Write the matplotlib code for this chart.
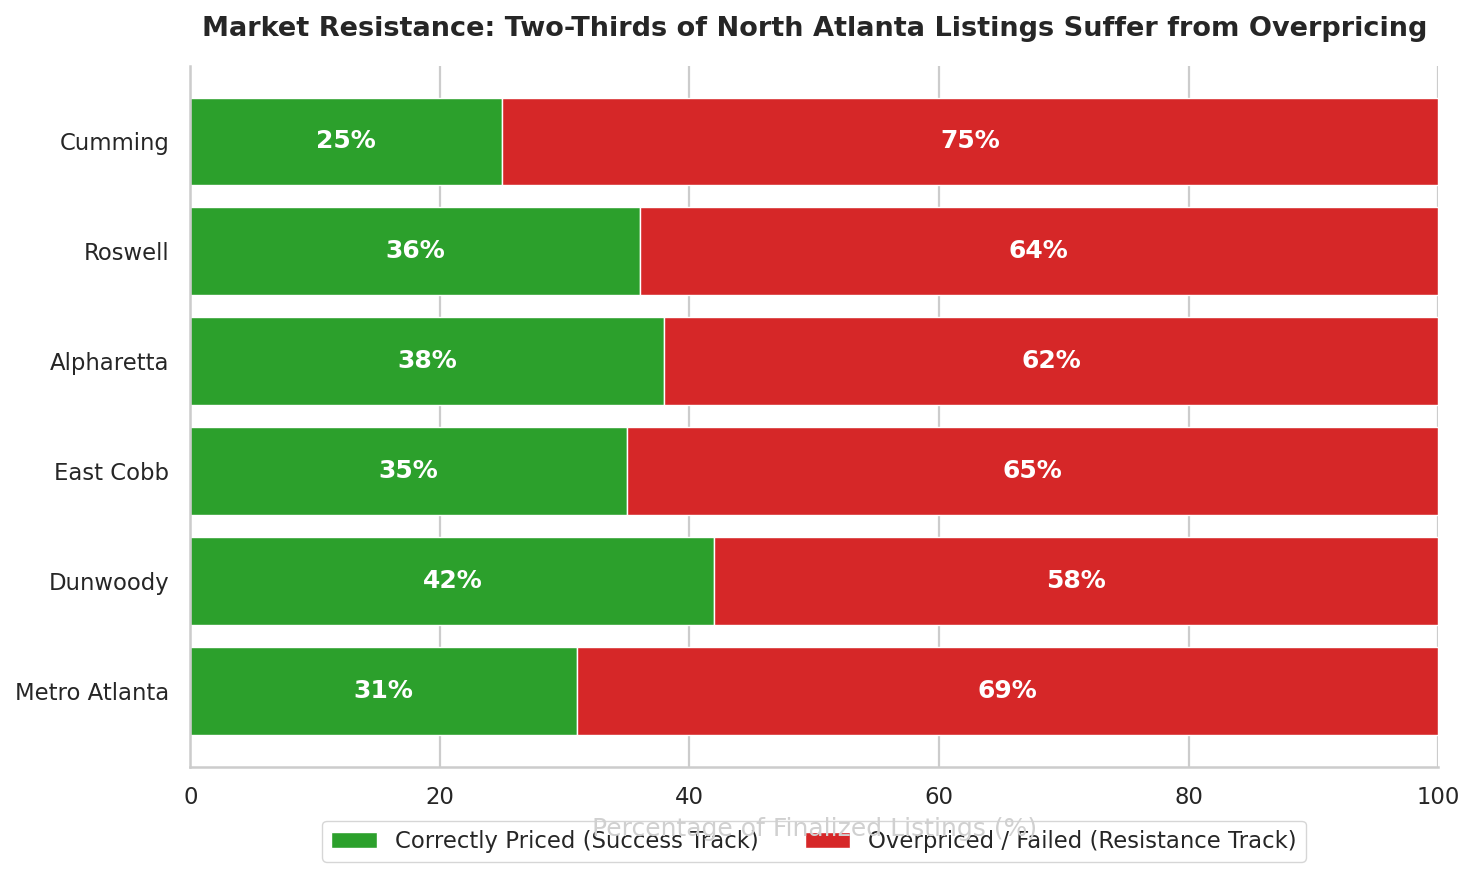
import matplotlib
matplotlib.use("Agg")
import matplotlib.pyplot as plt
import seaborn as sns

sns.set_theme(style="whitegrid")
plt.rcParams['font.family'] = ['DejaVu Sans']

areas = ["Metro Atlanta", "Dunwoody", "East Cobb", "Alpharetta", "Roswell", "Cumming"]
success = [31, 42, 35, 38, 36, 25]
failed = [69, 58, 65, 62, 64, 75]

green = "#2ca02c"
red = "#d62728"

fig, ax = plt.subplots(figsize=(14.75, 8.76), dpi=100)

b1 = ax.barh(areas, success, height=0.8, color=green, label="Correctly Priced (Success Track)")
b2 = ax.barh(areas, failed, left=success, height=0.8, color=red, label="Overpriced / Failed (Resistance Track)")

# labels in the middle of each segment
for bars, vals in ((b1, success), (b2, failed)):
    for bar, v in zip(bars, vals):
        x = bar.get_x() + bar.get_width() / 2
        y = bar.get_y() + bar.get_height() / 2
        ax.text(x, y, f"{v}%", ha="center", va="center", color="white",
                fontsize=18, fontweight="bold")

ax.set_xlim(0, 100)
ax.set_title("Market Resistance: Two-Thirds of North Atlanta Listings Suffer from Overpricing",
             fontsize=19.5, fontweight="bold", pad=21.5)
ax.set_xlabel("Percentage of Finalized Listings (%)", fontsize=18, color="#d0d0d0", labelpad=6)
ax.tick_params(axis="both", labelsize=16.4)
ax.tick_params(axis="x", pad=8)
ax.tick_params(axis="y", pad=9)
ax.grid(axis="y", visible=False)
ax.grid(axis="x", color="#cccccc", linewidth=1.6)
ax.set_axisbelow(True)
sns.despine(ax=ax, top=True, right=True)
for s in ("left", "bottom"):
    ax.spines[s].set_color("#cccccc")
    ax.spines[s].set_linewidth(1.8)

leg = ax.legend(loc="upper center", bbox_to_anchor=(0.5, -0.061), ncol=2, fontsize=16.4, frameon=True)
# in the original the axis label sits on top of the legend box
leg.set_zorder(0.1)

fig.subplots_adjust(left=0.129, right=0.975, top=0.925, bottom=0.125)
fig.savefig("out.png", dpi=100)
